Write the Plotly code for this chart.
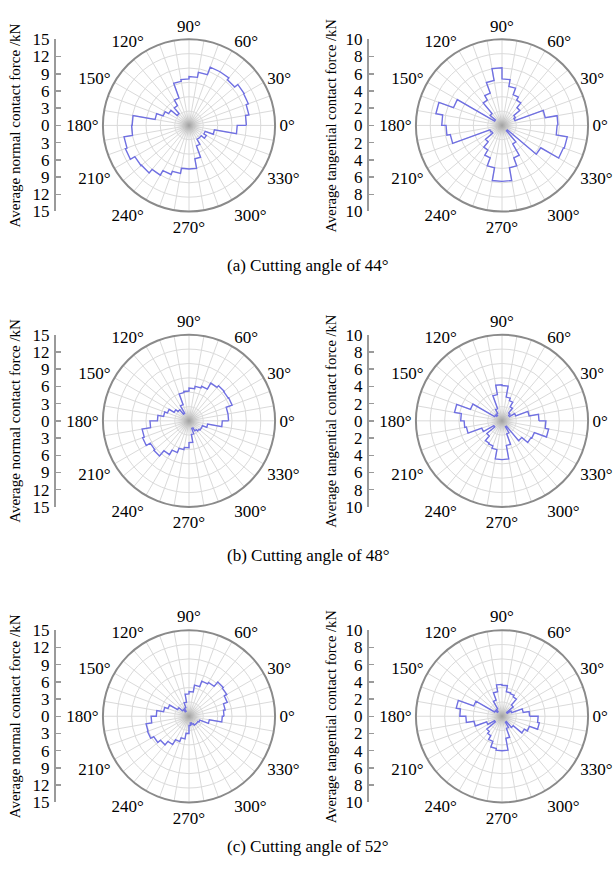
import plotly.graph_objects as go

# ---------------- data (36 bins of 10 degrees, starting at 0 deg) ----------------
bin_start = list(range(0, 360, 10))
bin_width = 10

normal_44 = [10.0, 10.6, 11.0, 11.1, 10.4, 10.8, 10.8, 9.4, 8.5, 8.1, 7.8, 5.1,
             4.0, 2.7, 4.1, 4.8, 6.0, 9.9, 10.0, 11.5, 11.8, 10.9, 10.8, 10.0,
             9.1, 8.5, 7.6, 7.6, 5.9, 3.8, 2.8, 2.8, 3.5, 3.0, 4.5, 8.4]
tangential_44 = [6.5, 5.1, 1.6, 1.8, 2.7, 3.4, 3.8, 4.6, 5.4, 6.7, 5.3, 4.0,
                 3.4, 1.8, 1.0, 6.0, 7.8, 7.0, 6.5, 6.1, 1.5, 1.4, 2.5, 3.3,
                 4.0, 5.0, 6.5, 6.5, 5.0, 4.0, 2.5, 0.8, 5.2, 7.6, 7.7, 6.4]
normal_48 = [6.9, 6.9, 8.0, 7.9, 8.0, 7.6, 6.4, 6.1, 5.7, 5.2, 5.0, 3.0,
             1.5, 2.5, 3.0, 4.0, 4.5, 5.5, 6.8, 8.3, 8.6, 7.8, 8.0, 6.8,
             5.9, 5.1, 4.7, 3.8, 2.4, 1.4, 2.0, 2.3, 2.5, 2.5, 3.3, 5.8]
tangential_48 = [4.3, 3.2, 1.7, 1.0, 1.2, 1.9, 2.5, 2.8, 4.1, 4.2, 3.1, 1.5,
                 1.0, 0.8, 1.0, 3.9, 5.6, 4.8, 4.4, 4.2, 2.5, 1.1, 2.3, 3.0,
                 3.1, 3.4, 4.5, 4.5, 2.9, 1.6, 0.8, 3.0, 3.9, 4.0, 5.5, 5.1]
normal_52 = [6.1, 6.4, 7.1, 7.6, 7.8, 6.8, 6.5, 5.5, 4.3, 3.9, 2.5, 1.6,
             1.0, 1.5, 2.3, 3.9, 4.5, 5.7, 6.6, 7.6, 7.7, 7.1, 6.5, 5.7,
             4.7, 4.0, 3.0, 1.6, 1.2, 1.5, 1.8, 1.8, 1.8, 2.0, 3.6, 5.8]
tangential_52 = [3.2, 2.5, 1.2, 0.7, 1.7, 2.6, 2.8, 2.9, 3.6, 3.7, 2.9, 2.0,
                 1.0, 0.7, 1.0, 3.5, 5.4, 4.9, 4.2, 3.3, 1.9, 1.0, 2.3, 2.6,
                 3.1, 3.8, 4.0, 4.0, 2.6, 1.5, 0.8, 1.7, 3.0, 3.4, 4.4, 4.2]

normal_max = 15
tangential_max = 10
normal_ticks = [15, 12, 9, 6, 3, 0, 3, 6, 9, 12, 15]
tangential_ticks = [10, 8, 6, 4, 2, 0, 2, 4, 6, 8, 10]
angle_label_values = [0, 30, 60, 90, 120, 150, 180, 210, 240, 270, 300, 330]

captions = ["(a) Cutting angle of 44°", "(b) Cutting angle of 48°",
            "(c) Cutting angle of 52°"]
normal_title = "Average normal contact force /kN"
tangential_title = "Average tangential contact force /kN"

panels = [
    (normal_44, tangential_44),
    (normal_48, tangential_48),
    (normal_52, tangential_52),
]

# ---------------- layout geometry (page pixels) ----------------
W, H = 616, 873
R = 88
row_cy = [119, 421, 723]
left_cx, right_cx = 189, 502
caption_y = [262, 559, 856]
FONT = "Liberation Serif, Times New Roman, serif"
LINE_COLOR = "#7070e2"
GRID = "#dadada"


def fx(px):
    return px / W


def fy(py):
    return 1 - py / H


def step_path(vals):
    r, th = [], []
    for s, v in zip(bin_start, vals):
        th += [s, s + bin_width]
        r += [v, v]
    r.append(r[0])
    th.append(th[0])
    return r, th


fig = go.Figure()
layout = dict(
    width=W, height=H, margin=dict(l=0, r=0, t=0, b=0),
    paper_bgcolor="white", plot_bgcolor="rgba(0,0,0,0)", showlegend=False,
    font=dict(family=FONT, size=17, color="black"),
    xaxis=dict(visible=False, range=[0, 1], domain=[0, 1], fixedrange=True),
)

ticktext_ang = [f"{a}°" if a in angle_label_values else "" for a in bin_start]

annotations = []
pidx = 0
for row, (nvals, tvals) in enumerate(panels):
    cy = row_cy[row]
    for col, (vals, vmax, ticks, title) in enumerate([
        (nvals, normal_max, normal_ticks, normal_title),
        (tvals, tangential_max, tangential_ticks, tangential_title),
    ]):
        pidx += 1
        pname = "polar" if pidx == 1 else f"polar{pidx}"
        cx = left_cx if col == 0 else right_cx
        fig.add_trace(go.Scatterpolar(
            r=[0], theta=[0], mode="markers", subplot=pname, hoverinfo="skip",
            marker=dict(size=36, color="rgba(255,255,255,0)",
                        gradient=dict(type="radial", color="rgba(150,150,150,0.85)"),
                        line=dict(width=0)),
        ))
        r, th = step_path(vals)
        fig.add_trace(go.Scatterpolar(
            r=r, theta=th, mode="lines", subplot=pname,
            line=dict(color=LINE_COLOR, width=1.4),
        ))
        layout[pname] = dict(
            domain=dict(x=[fx(cx - R), fx(cx + R)], y=[fy(cy + R), fy(cy - R)]),
            bgcolor="white",
            angularaxis=dict(
                tickmode="array", tickvals=bin_start, ticktext=ticktext_ang,
                direction="counterclockwise", rotation=0,
                showline=True, linecolor="#8a8a8a", linewidth=2,
                gridcolor=GRID, gridwidth=1, ticks="",
                tickfont=dict(family=FONT, size=17, color="black"),
            ),
            radialaxis=dict(
                range=[0, vmax], tickmode="array",
                tickvals=[vmax * k / 6 for k in range(1, 6)],
                showticklabels=False, ticks="", showline=False,
                gridcolor=GRID, gridwidth=1,
            ),
        )
        yname = "yaxis" if pidx == 1 else f"yaxis{pidx}"
        yref = "y" if pidx == 1 else f"y{pidx}"
        axis_x = 55 if col == 0 else 368
        step = ticks[0] // 5
        fig.add_trace(go.Scatter(x=[None], y=[None], xaxis="x", yaxis=yref,
                                 mode="lines", hoverinfo="skip"))
        layout[yname] = dict(
            domain=[fy(cy + R), fy(cy - R)], range=[-vmax, vmax], anchor="free",
            position=fx(axis_x), tickmode="array",
            tickvals=[-vmax + step * k for k in range(11)],
            ticktext=list(reversed(ticks)),
            ticks="inside", ticklen=5, tickcolor="#9a9a9a", tickwidth=1.5,
            showline=True, linecolor="#9a9a9a", linewidth=2,
            showgrid=False, zeroline=False, fixedrange=True,
            tickfont=dict(family=FONT, size=17, color="black"),
            ticklabelstandoff=1,
        )
        title_x = 15 if col == 0 else 331
        annotations.append(dict(
            text=title, x=fx(title_x), y=fy(cy), xref="paper", yref="paper",
            showarrow=False, textangle=-90,
            font=dict(family=FONT, size=15 if col == 0 else 14.5, color="black"),
            xanchor="center", yanchor="middle",
        ))
    annotations.append(dict(
        text=captions[row], x=fx(308), y=fy(caption_y[row]), xref="paper", yref="paper",
        showarrow=False, font=dict(family=FONT, size=17, color="black"),
        xanchor="center", yanchor="middle",
    ))

layout["annotations"] = annotations
fig.update_layout(**layout)
fig.write_html("out.html",
               config={"displayModeBar": False, "staticPlot": True},
               post_script="document.body.style.margin='0';document.body.style.overflow='hidden';")
